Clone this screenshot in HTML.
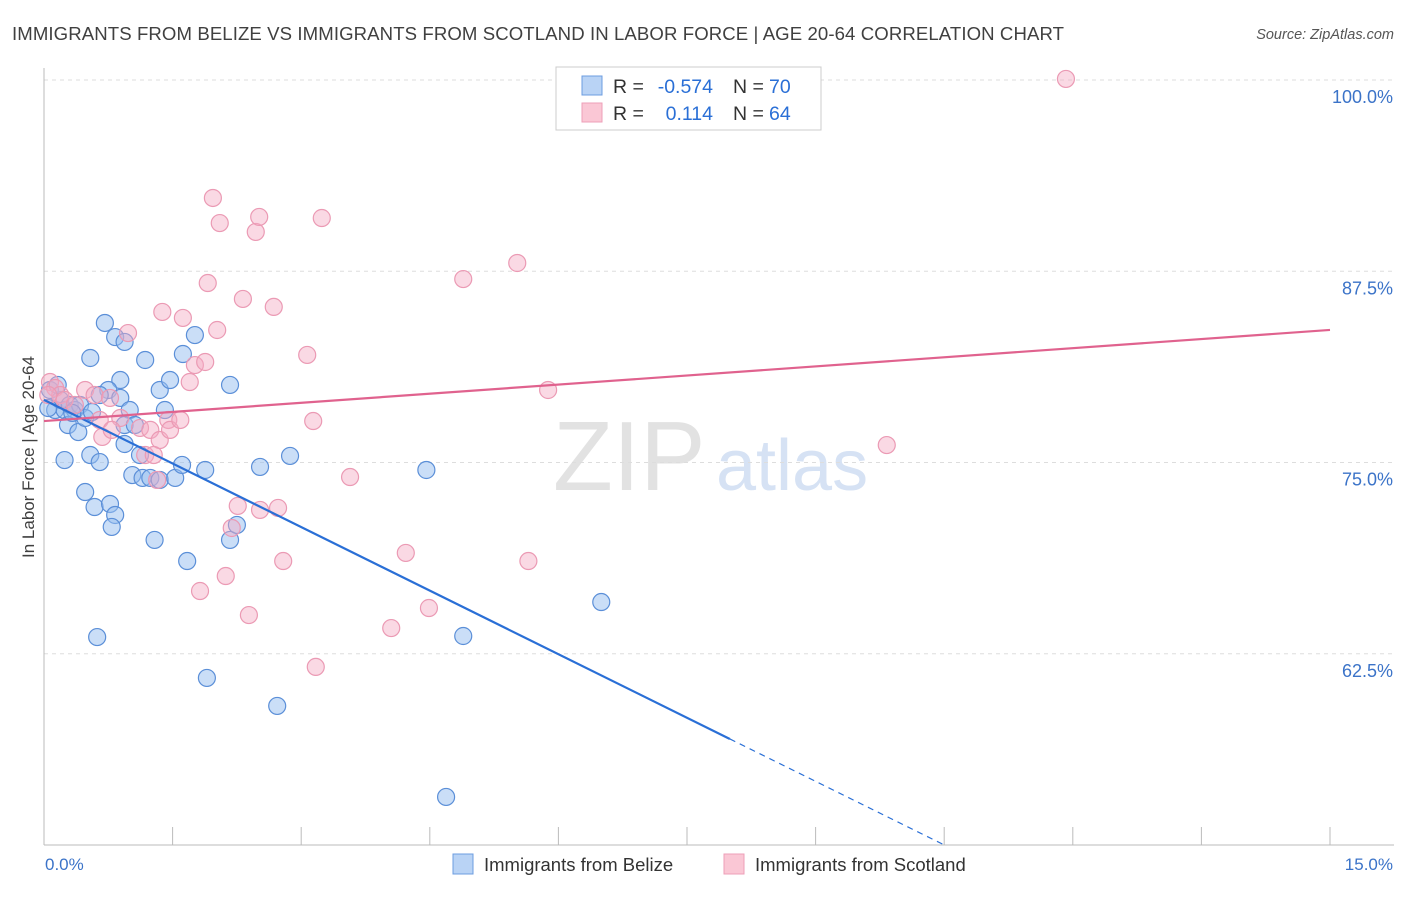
<!DOCTYPE html>
<html><head><meta charset="utf-8"><style>
body{margin:0;background:#fff;font-family:"Liberation Sans",sans-serif}
svg text{font-family:"Liberation Sans",sans-serif}
</style></head><body>
<svg id="c" width="1406" height="892">
<text x="12" y="40" font-size="18.6" fill="#404040" textLength="1052">IMMIGRANTS FROM BELIZE VS IMMIGRANTS FROM SCOTLAND IN LABOR FORCE | AGE 20-64 CORRELATION CHART</text>
<text x="1394" y="39" font-size="14.5" fill="#555" text-anchor="end" font-style="italic">Source: ZipAtlas.com</text>
<text x="553" y="490" font-size="98" fill="#e2e2e2" font-family="Liberation Serif">ZIP</text>
<text x="716" y="490" font-size="72" fill="#d6e2f4">atlas</text>
<g id="grid"></g><g id="axes"></g><g id="pts"></g><g id="lines"></g>
<text transform="translate(34,457) rotate(-90)" font-size="17" fill="#404040" text-anchor="middle">In Labor Force | Age 20-64</text>
<text x="45" y="870" font-size="17" fill="#3b73c8">0.0%</text>
<text x="1393" y="870" font-size="17" fill="#3b73c8" text-anchor="end">15.0%</text>
<g>
<rect x="556" y="67" width="265" height="63" fill="#fff" stroke="#ccc"/>
<rect x="582" y="76" width="20" height="19" fill="#b9d3f5" stroke="#6c9ce0"/>
<rect x="582" y="103" width="20" height="19" fill="#fac7d5" stroke="#ee9fb8"/>
<text x="613" y="93" font-size="19.5" fill="#333">R =</text>
<text x="713" y="93" font-size="19.5" fill="#2a6fd6" text-anchor="end">-0.574</text>
<text x="733" y="93" font-size="19.5" fill="#333">N =</text>
<text x="769" y="93" font-size="19.5" fill="#2a6fd6">70</text>
<text x="613" y="120" font-size="19.5" fill="#333">R =</text>
<text x="713" y="120" font-size="19.5" fill="#2a6fd6" text-anchor="end">0.114</text>
<text x="733" y="120" font-size="19.5" fill="#333">N =</text>
<text x="769" y="120" font-size="19.5" fill="#2a6fd6">64</text>
</g>
<g>
<rect x="453" y="854" width="20" height="20" fill="#b9d3f5" stroke="#6c9ce0"/>
<text x="484" y="871" font-size="18.5" fill="#333">Immigrants from Belize</text>
<rect x="724" y="854" width="20" height="20" fill="#fac7d5" stroke="#ee9fb8"/>
<text x="755" y="871" font-size="18.5" fill="#333">Immigrants from Scotland</text>
</g>
</svg>
<script>
const yTicks=[100,87.5,75,62.5];
const yTickLabels=["100.0%","87.5%","75.0%","62.5%"];
const xTicks=[0,1.5,3,4.5,6,7.5,9,10.5,12,13.5,15];
const belizeX=[.07,.13,.19,.24,.30,.16,.36,.42,.05,.28,.40,.48,.54,.24,.65,.48,.59,.77,.83,.79,.62,.54,.71,.83,.94,.89,.75,.89,1.00,.94,1.06,1.18,1.35,1.47,1.41,1.62,1.76,2.17,.94,1.03,1.15,1.24,1.35,1.53,1.61,1.88,2.52,2.87,1.29,1.67,2.17,2.25,1.90,2.72,4.46,4.89,6.50,4.69,.65,.56,.33,1.12];
const belizeY=[79.74,78.43,79.09,78.43,78.76,80.07,78.43,78.76,78.56,77.45,76.99,77.91,75.49,75.16,75.03,73.07,72.09,72.29,71.57,70.79,63.59,81.83,84.12,83.20,82.88,80.39,79.74,79.22,78.43,77.45,77.45,81.70,79.74,80.39,78.43,82.09,83.33,80.07,76.21,74.18,73.99,73.99,73.86,73.99,74.84,74.51,74.71,75.43,69.94,68.56,69.94,70.92,60.92,59.09,74.51,63.66,65.88,53.14,79.41,78.30,78.24,75.49];
const scotX=[.07,.13,.19,.05,.24,.36,.48,.59,.65,.68,.77,.89,.98,1.12,1.18,1.24,1.32,1.35,1.38,1.45,1.47,1.59,1.62,1.70,1.76,1.88,1.91,1.97,2.02,2.05,1.82,2.12,2.19,2.26,2.32,2.39,2.47,2.51,2.52,2.68,2.73,2.79,3.07,3.14,3.17,3.24,3.57,4.05,4.22,4.49,4.89,5.52,5.65,5.88,9.83,11.92,1.28,.79];
const scotY=[80.26,79.87,79.41,79.41,79.09,78.76,79.74,79.41,77.78,76.67,79.22,77.91,83.46,77.26,75.49,77.13,73.86,76.47,84.84,77.78,77.13,77.78,84.45,80.26,81.37,81.57,86.73,92.29,83.66,90.65,66.60,67.58,70.72,72.16,85.69,65.03,90.07,91.05,71.90,85.17,72.03,68.56,82.03,77.71,61.64,90.98,74.05,64.18,69.09,65.49,86.99,88.04,68.56,79.74,76.14,100.07,75.49,77.13];
const belizeTrend=[79.09,-2.77];
const scotTrend=[77.71,0.397];
const X=v=>44+v/15*1286;
const Y=v=>80+(100-v)*15.3;
const NS="http://www.w3.org/2000/svg";
function mk(t,p,a){const e=document.createElementNS(NS,t);for(const k in a)e.setAttribute(k,a[k]);p.appendChild(e);return e;}
const grid=document.getElementById('grid'),axes=document.getElementById('axes'),pts=document.getElementById('pts'),lines=document.getElementById('lines');
yTicks.forEach((t,i)=>{
 const l=mk('line',grid,{x1:44,x2:1394,y1:Y(t),y2:Y(t),stroke:'#ddd','stroke-dasharray':'4,4'});
 
 
 const tx=mk('text',grid,{x:1393,y:Y(t)+23,'font-size':18,fill:'#3b73c8','text-anchor':'end'});
 tx.textContent=yTickLabels[i];
 
 
});
const ax=mk('line',axes,{x1:44,x2:1394,y1:845,y2:845,stroke:'#bbb'});


const ay=mk('line',axes,{x1:44,x2:44,y1:68,y2:845,stroke:'#bbb'});


xTicks.forEach(t=>{
 const l=mk('line',axes,{x1:X(t),x2:X(t),y1:827,y2:845,stroke:'#bbb'});
 
 
});
belizeX.forEach((v,i)=>{
 const c=mk('circle',pts,{cx:X(v),cy:Y(belizeY[i]),r:8.5,fill:'rgba(150,190,240,0.5)',stroke:'#5b8fd8','stroke-width':1.2});
 
 
});
scotX.forEach((v,i)=>{
 const c=mk('circle',pts,{cx:X(v),cy:Y(scotY[i]),r:8.5,fill:'rgba(245,170,195,0.45)',stroke:'#eb9ab4','stroke-width':1.2});
 
 
});
const bf=x=>belizeTrend[0]+belizeTrend[1]*x;
const xEnd=(50-belizeTrend[0])/belizeTrend[1];
const b1=mk('line',lines,{x1:X(0),y1:Y(bf(0)),x2:X(8),y2:Y(bf(8)),stroke:'#2a6fd6','stroke-width':2.2});


const b2=mk('line',lines,{x1:X(8),y1:Y(bf(8)),x2:X(xEnd),y2:Y(bf(xEnd)),stroke:'#2a6fd6','stroke-width':1.2,'stroke-dasharray':'6,5'});


const sf=x=>scotTrend[0]+scotTrend[1]*x;
const s1=mk('line',lines,{x1:X(0),y1:Y(sf(0)),x2:X(15),y2:Y(sf(15)),stroke:'#e0628e','stroke-width':2.2});


</script>
</body></html>
